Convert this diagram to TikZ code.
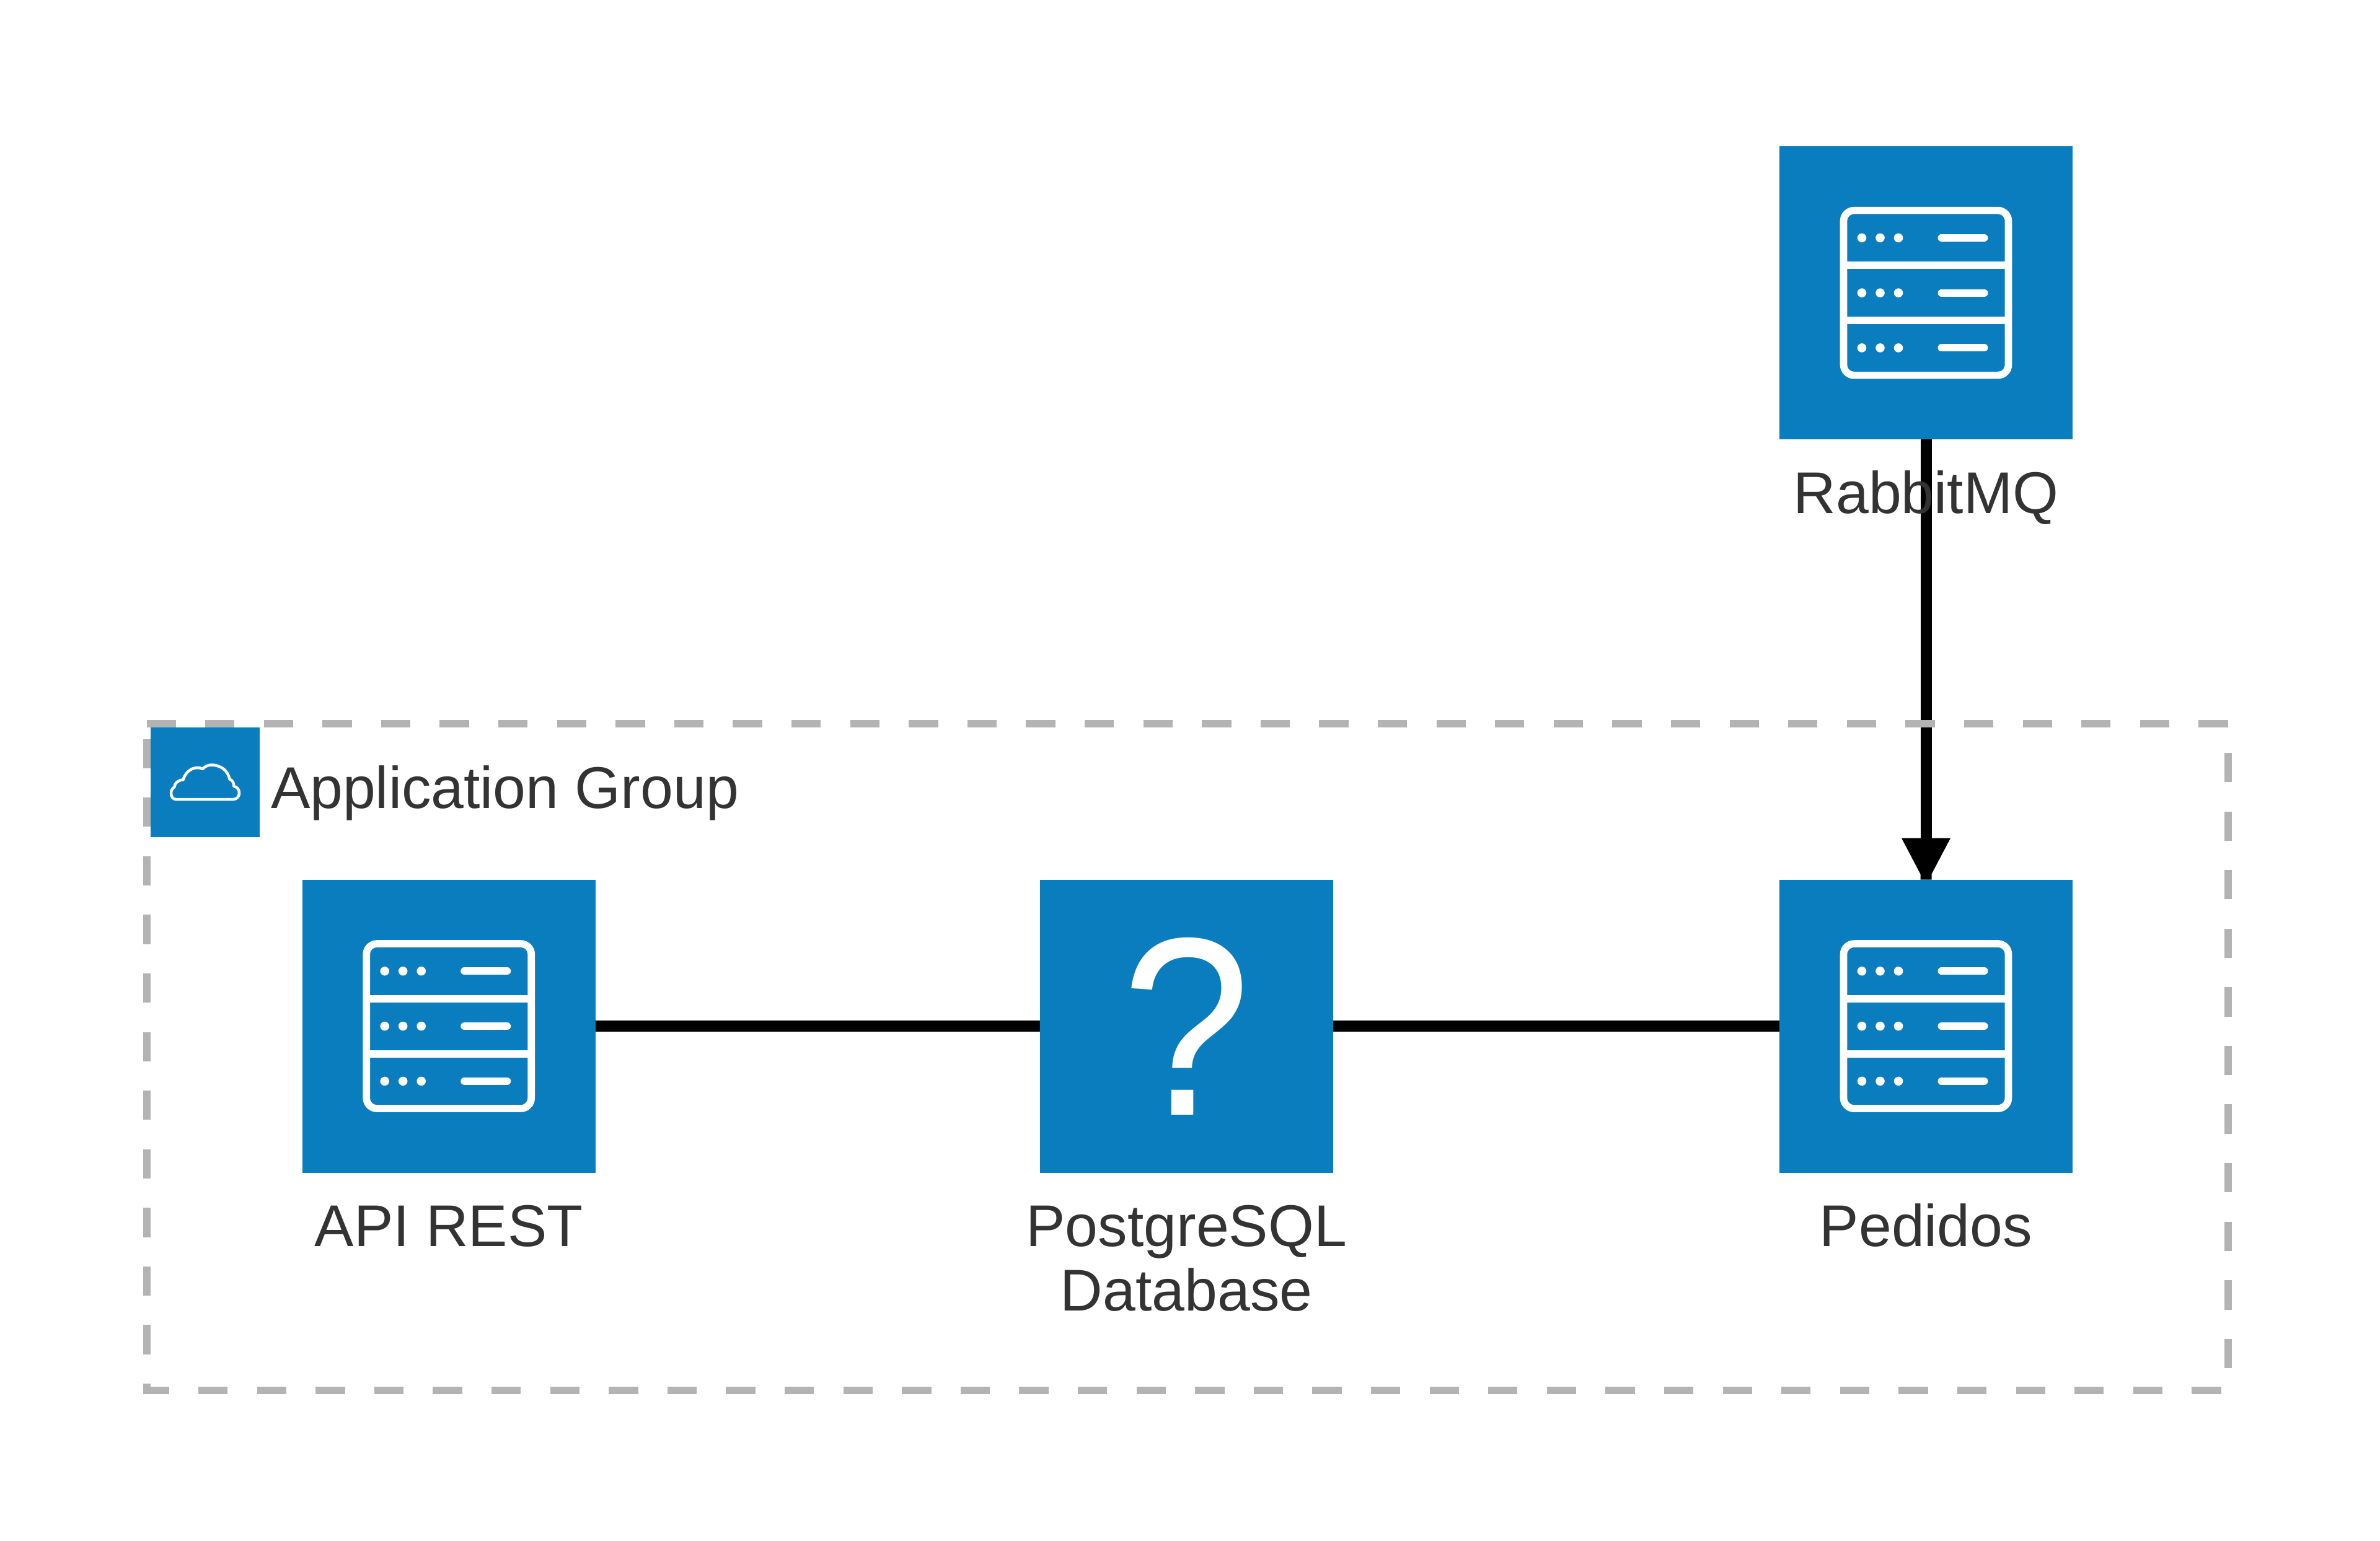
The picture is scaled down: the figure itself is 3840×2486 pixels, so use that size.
\documentclass[tikz,border=0pt]{standalone}
\usepackage{fontspec}
\setmainfont{Liberation Sans}
\usetikzlibrary{arrows.meta,calc}
\definecolor{awsblue}{HTML}{0A7DBE}
\definecolor{labelgrey}{HTML}{333333}
\definecolor{framegrey}{HTML}{B3B3B3}
\pgfdeclarearrow{
  name=StubHead,
  setup code={\pgfarrowssettipend{0pt}\pgfarrowssetlineend{-5pt}\pgfarrowssetbackend{-6.7pt}},
  drawing code={
    \pgfpathmoveto{\pgfqpoint{-6.7pt}{3.95pt}}
    \pgfpathlineto{\pgfqpoint{-0.9pt}{0.9pt}}
    \pgfpathlineto{\pgfqpoint{0pt}{0.9pt}}
    \pgfpathlineto{\pgfqpoint{0pt}{-0.9pt}}
    \pgfpathlineto{\pgfqpoint{-0.9pt}{-0.9pt}}
    \pgfpathlineto{\pgfqpoint{-6.7pt}{-3.95pt}}
    \pgfpathclose
    \pgfusepathqfill
  }
}
\tikzset{
  x=0.1pt,y=-0.1pt,
  servicebox/.style={rectangle,fill=awsblue,draw=none,inner sep=0pt,outer sep=0pt,minimum size=47.3pt},
  groupicon/.style={rectangle,fill=awsblue,draw=none,inner sep=0pt,outer sep=0pt,minimum size=17.7pt},
  boxlabel/.style={text=labelgrey,inner sep=0pt,outer sep=0pt,font=\fontsize{9.5}{10.4}\selectfont},
  link/.style={draw=black,line width=1.8pt},
  groupframe/.style={draw=framegrey,line width=1.2pt,dash pattern=on 4.73pt off 4.73pt},
  pics/serverglyph/.style={code={
    \draw[white,line width=1.17pt,rounded corners=1.7pt] (-133,-133) rectangle (133,133);
    \draw[white,line width=1.2pt] (-133,-44.5) -- (133,-44.5) (-133,44.5) -- (133,44.5);
    \foreach \dy in {-88.8,0,88.8}{
      \foreach \dx in {-103.5,-74,-44.5}{
        \fill[white] (\dx,\dy) circle[radius=0.73pt];
      }
      \draw[white,line width=1.2pt,line cap=round] (25,\dy) -- (94,\dy);
    }
  }},
}
\begin{document}
\begin{tikzpicture}
\useasboundingbox (0,0) rectangle (3840,2486);
\fill[white] (0,0) rectangle (3840,2486);

% service boxes
\node[servicebox] (rabbit) at (3107.5,472.6) {};
\node[servicebox] (api) at (724.2,1656) {};
\node[servicebox,text=white,font=\fontsize{41}{41}\selectfont] (pg) at (1914.3,1656) {\scalebox{0.91}[1]{?}};
\node[servicebox] (pedidos) at (3107.5,1656) {};
\pic at (rabbit) {serverglyph};
\pic at (api) {serverglyph};
\pic at (pedidos) {serverglyph};

% connectors
\draw[link] (api) -- (pg);
\draw[link] (pg) -- (pedidos);
\draw[link,-{StubHead}] (rabbit) -- (pedidos);

% group frame
\coordinate (gtl) at (236.5,1168);
\coordinate (gtr) at (3595,1168);
\coordinate (gbr) at (3595,2244);
\coordinate (gbl) at (236.5,2244);
\draw[groupframe] (gtl) -- (gtr) -- (gbr) -- (gbl) -- cycle;

% group icon
\node[groupicon] (cloudbox) at (331,1262.5) {};
\begin{scope}[shift={(cloudbox.center)}]
\draw[white,line width=0.45pt,line join=round] (-47,27.5) -- (45,27.5)
  .. controls (51,27.5) and (55,23) .. (55,17.5)
  .. controls (55,12) and (52,7.5) .. (46.5,6.5)
  .. controls (46.5,1) and (44,-3.5) .. (39.5,-5)
  .. controls (37,-18) and (26,-28) .. (10,-28)
  .. controls (5,-28) and (0,-26) .. (-4,-21.5)
  .. controls (-7,-23) and (-9,-23.5) .. (-12,-23.5)
  .. controls (-23,-23.5) and (-32,-16) .. (-35.5,-4)
  .. controls (-43,-4) and (-49.5,1) .. (-49.5,7.5)
  .. controls (-53,9.5) and (-55,13.5) .. (-55,17.5)
  .. controls (-55,23) and (-52,27.5) .. (-47,27.5) -- cycle;
\end{scope}

% labels
\node[boxlabel,anchor=base west] (grouplabel) at (437,1304) {Application Group};
\node[boxlabel,anchor=base] (rabbitlabel) at ($(rabbit.south)+(0,119)$) {RabbitMQ};
\node[boxlabel,anchor=base] (apilabel) at ($(api.south)+(0,119)$) {API REST};
\node[boxlabel,anchor=base,align=center] (pglabel) at ($(pg.south)+(0,223)$) {PostgreSQL\\Database};
\node[boxlabel,anchor=base] (pedidoslabel) at ($(pedidos.south)+(0,119)$) {Pedidos};
\end{tikzpicture}
\end{document}
